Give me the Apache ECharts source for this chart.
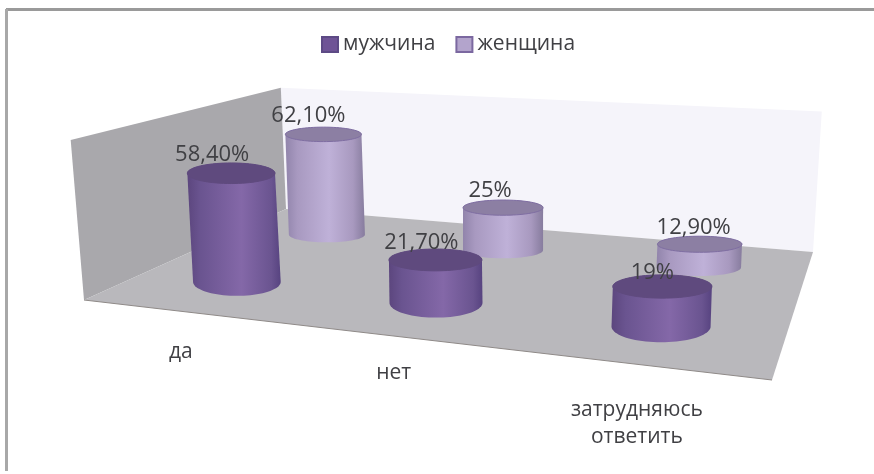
<!DOCTYPE html>
<html>
<head>
<meta charset="utf-8">
<style>html,body{margin:0;padding:0;background:#fff}#c{width:874px;height:474px;filter:blur(0.6px)}</style>
<script src="https://cdn.jsdelivr.net/npm/echarts@6/dist/echarts.min.js"></script>
</head>
<body>
<div id="c"></div>
<script>
// ---- data ----
const categories = ['да', 'нет', 'затрудняюсь\nответить'];
const seriesNames = ['мужчина', 'женщина'];
const maleValues = [58.4, 21.7, 19];
const femaleValues = [62.1, 25, 12.9];
const maleLabels = ['58,40%', '21,70%', '19%'];
const femaleLabels = ['62,10%', '25%', '12,90%'];
const valueAxisMax = 82;

// ---- scene layout: floor quad and camera fit ----
const FLOOR = { fl: [84, 300], fr: [772, 380], br: [813, 252], bl: [286, 209] };
const GRID = { left: 84, top: 140, width: 688, height: 160 };
const DEPTH = { male: 0.25, female: 0.75 };
const RADIUS = 46;
const LEAN = { cx: 500, k: 0.0002 };
const RATIO = { male: { base: 0.32, top: 0.235 }, female: { base: 0.205, top: 0.19 } };
const LABEL_SHIFT = {
  male: [[-19, -18], [-14, -17], [-10, -14]],
  female: [[-15, -19], [-13, -17], [-6, -17]]
};
const TICK_DY = [27, 24, 32];
const FONT = '"Open Sans", sans-serif';
const STYLE = {
  male: {
    legend: '#6f5496', border: '#5d4a85',
    side: [[0, '#5c467e'], [0.14, '#6a5490'], [0.58, '#8468a8'], [0.9, '#6a5490'], [1, '#574380']],
    top: '#5f4a7e', rim: '#5f4a7e'
  },
  female: {
    legend: '#b3a4cc', border: '#7b68a0',
    side: [[0, '#9184ab'], [0.15, '#a899c0'], [0.55, '#bfb1d8'], [0.85, '#a899bf'], [1, '#877c9e']],
    top: '#8c7fa3', rim: '#7f6ea2'
  }
};

// homography: unit floor square -> screen
const H = (function () {
  const { fl, fr, br, bl } = FLOOR;
  const sx = fl[0] - fr[0] + br[0] - bl[0], sy = fl[1] - fr[1] + br[1] - bl[1];
  const d1x = fr[0] - br[0], d1y = fr[1] - br[1], d2x = bl[0] - br[0], d2y = bl[1] - br[1];
  const det = d1x * d2y - d2x * d1y;
  const g = (sx * d2y - d2x * sy) / det, h = (d1x * sy - sx * d1y) / det;
  return {
    a: fr[0] - fl[0] + g * fr[0], b: bl[0] - fl[0] + h * bl[0], c: fl[0],
    d: fr[1] - fl[1] + g * fr[1], e: bl[1] - fl[1] + h * bl[1], f: fl[1], g, h
  };
})();
function weight(u, w) { return H.g * u + H.h * w + 1; }
// u,w on the floor; lift = pixels (before perspective) from the value axis
function project(u, w, lift) {
  const W = weight(u, w);
  const x = (H.a * u + H.b * w + H.c) / W, y = (H.d * u + H.e * w + H.f) / W;
  const hp = (lift || 0) / W;
  return [x + (x - LEAN.cx) * LEAN.k * hp, y - hp];
}
function ellipse(c, rx, ry, from, to, n) {
  const pts = [];
  for (let i = 0; i <= n; i++) {
    const t = from + (to - from) * i / n;
    pts.push([c[0] + rx * Math.cos(t), c[1] + ry * Math.sin(t)]);
  }
  return pts;
}
function uOf(api, idx) { return (api.coord([idx, 0])[0] - GRID.left) / GRID.width; }

function cylinderSeries(key, name, values, labels) {
  const st = STYLE[key];
  return {
    name, type: 'custom', coordinateSystem: 'cartesian2d', z: key === 'male' ? 4 : 3,
    itemStyle: { color: st.legend, borderColor: st.border, borderWidth: 1.5 },
    data: values.map((v, i) => [i, v]),
    renderItem(params, api) {
      const i = api.value(0), v = api.value(1);
      const u = uOf(api, i), w = DEPTH[key];
      const lift = api.size([0, v])[1];
      const W = weight(u, w), rx = RADIUS / W;
      const base = project(u, w, 0), top = project(u, w, lift);
      const ryB = rx * RATIO[key].base, ryT = rx * RATIO[key].top;
      const side = ellipse(base, rx, ryB, 0, Math.PI, 40)
        .concat(ellipse(top, rx, ryT, Math.PI, 2 * Math.PI, 40));
      const cap = ellipse(top, rx, ryT, 0, 2 * Math.PI, 72);
      const grad = new echarts.graphic.LinearGradient(0, 0, 1, 0,
        st.side.map(s => ({ offset: s[0], color: s[1] })));
      const shift = LABEL_SHIFT[key][i];
      return {
        type: 'group',
        children: [
          { type: 'polygon', shape: { points: side }, style: { fill: grad } },
          { type: 'polygon', shape: { points: cap }, style: { fill: st.top, stroke: st.rim, lineWidth: 1 } },
          { type: 'text', style: {
              text: labels[i], x: top[0] + shift[0], y: top[1] + shift[1],
              align: 'center', verticalAlign: 'middle',
              font: '22px ' + FONT, fill: '#404044' } }
        ]
      };
    }
  };
}

const sceneSeries = {
  type: 'custom', coordinateSystem: 'cartesian2d', z: 1, silent: true,
  data: [[0, valueAxisMax]],
  renderItem(params, api) {
    const H3 = api.size([0, api.value(1)])[1];
    const a = project(0, 0, 0), b = project(1, 0, 0), c = project(1, 1, 0), d = project(0, 1, 0);
    const at = project(0, 0, H3), ct = project(1, 1, H3), dt = project(0, 1, H3);
    return {
      type: 'group',
      children: [
        { type: 'polygon', shape: { points: [d, dt, ct, c] },
          style: { fill: '#f5f4fa' } },
        { type: 'polygon', shape: { points: [a, at, dt, d] },
          style: { fill: '#a9a8ac' } },
        { type: 'polygon', shape: { points: [a, b, c, d] },
          style: { fill: '#b9b8bc' } },
        { type: 'line', shape: { x1: a[0], y1: a[1], x2: b[0], y2: b[1] },
          style: { stroke: '#8f8a88', lineWidth: 1 } }
      ]
    };
  }
};

const tickSeries = {
  type: 'custom', coordinateSystem: 'cartesian2d', z: 2, silent: true,
  data: categories.map((c, i) => [i, 0]),
  renderItem(params, api) {
    const i = api.value(0);
    const p = project(uOf(api, i), 0, 0);
    return {
      type: 'text',
      style: {
        text: categories[i], x: p[0], y: p[1] + TICK_DY[i],
        align: 'center', verticalAlign: 'top', lineHeight: 27,
        font: '21px ' + FONT, fill: '#404044'
      }
    };
  }
};

const chart = echarts.init(document.getElementById('c'), null, { renderer: 'canvas' });
chart.setOption({
  animation: false,
  backgroundColor: '#ffffff',
  tooltip: { show: false },
  grid: { left: GRID.left, top: GRID.top, width: GRID.width, height: GRID.height },
  xAxis: { type: 'category', data: categories, show: false },
  yAxis: { type: 'value', min: 0, max: valueAxisMax, show: false },
  legend: {
    data: seriesNames, left: 316, top: 29, itemWidth: 16, itemHeight: 15, itemGap: 20,
    icon: 'rect', textStyle: { fontFamily: FONT, fontSize: 21, color: '#404044' }
  },
  graphic: [
    { type: 'line', shape: { x1: 6, y1: 9.5, x2: 874, y2: 9.5 }, style: { stroke: '#9a9a9a', lineWidth: 3 } },
    { type: 'line', shape: { x1: 6.5, y1: 9, x2: 6.5, y2: 471 }, style: { stroke: '#a8a8a8', lineWidth: 3 } }
  ],
  series: [
    sceneSeries,
    tickSeries,
    cylinderSeries('female', seriesNames[1], femaleValues, femaleLabels),
    cylinderSeries('male', seriesNames[0], maleValues, maleLabels)
  ]
});
</script>
</body>
</html>
